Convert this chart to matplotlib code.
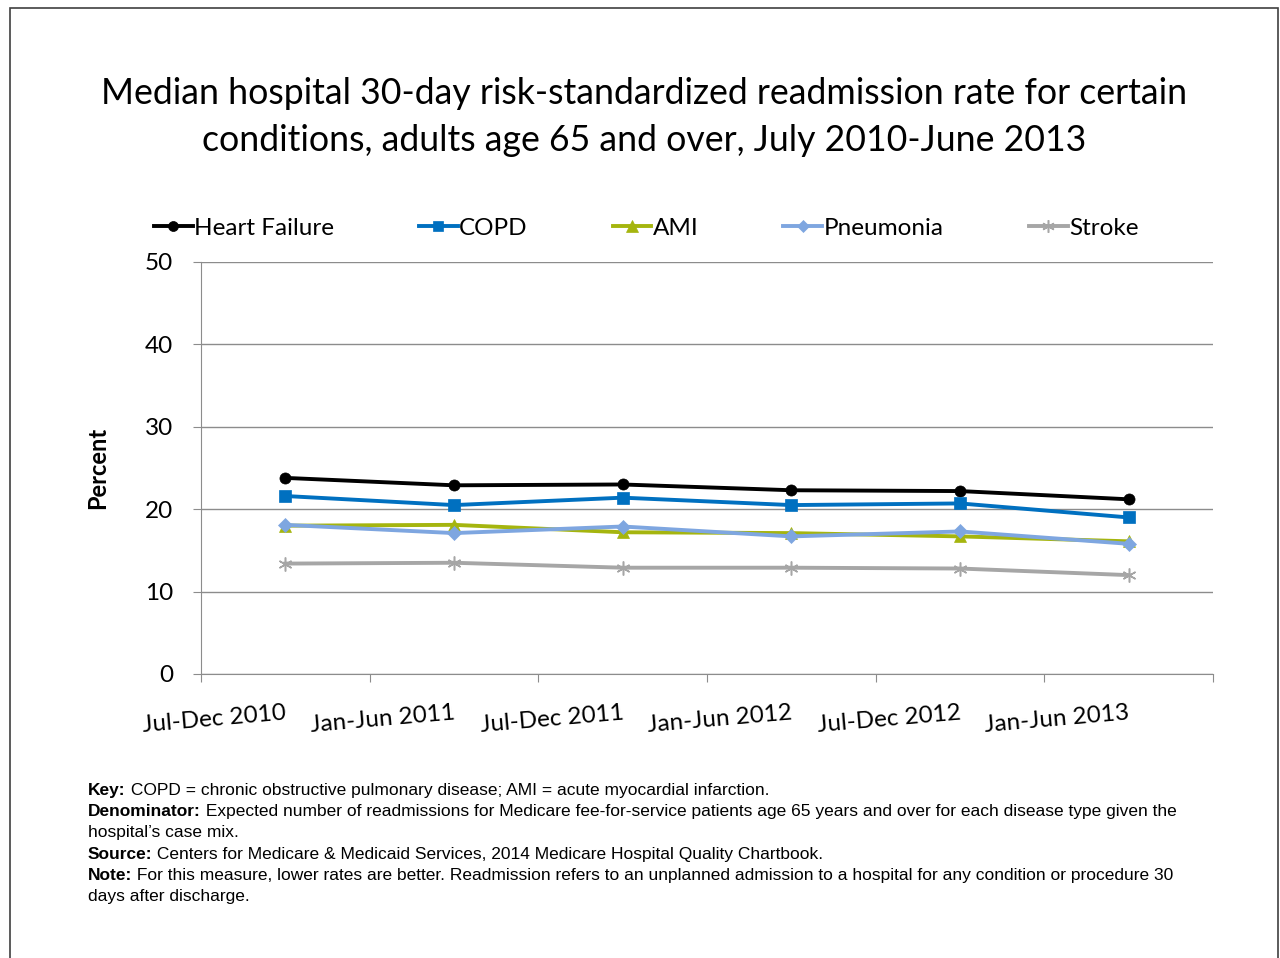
import matplotlib
matplotlib.use("Agg")
import matplotlib.pyplot as plt
from matplotlib.patches import Rectangle

periods = ["Jul-Dec 2010", "Jan-Jun 2011", "Jul-Dec 2011",
           "Jan-Jun 2012", "Jul-Dec 2012", "Jan-Jun 2013"]
heart_failure = [23.8, 22.9, 23.0, 22.3, 22.2, 21.2]
copd = [21.6, 20.5, 21.4, 20.5, 20.7, 19.0]
ami = [18.0, 18.1, 17.2, 17.1, 16.7, 16.1]
pneumonia = [18.1, 17.1, 17.9, 16.7, 17.3, 15.8]
stroke = [13.4, 13.5, 12.9, 12.9, 12.8, 12.0]
y_ticks = [0, 10, 20, 30, 40, 50]

series = [
    ("Heart Failure", heart_failure, "#000000", "o", 8),
    ("COPD", copd, "#0070C0", "s", 8),
    ("AMI", ami, "#A5B50E", "^", 9),
    ("Pneumonia", pneumonia, "#7EA6E0", "D", 7),
    ("Stroke", stroke, "#A6A6A6", (6, 2, 0), 10),
]

main_font = ["Lato", "DejaVu Sans"]
note_font = ["Liberation Sans", "DejaVu Sans"]

fig = plt.figure(figsize=(12.8, 9.58), dpi=100)
fig.patches.append(Rectangle((10 / 1280, -0.1), 1268 / 1280, 1.1 - 8 / 958,
                             transform=fig.transFigure, fill=False,
                             edgecolor="#404040", linewidth=1.2))

ax = fig.add_axes([201 / 1280, 1 - 674 / 958, 1012 / 1280, 412 / 958])
x = list(range(len(periods)))
for name, vals, color, marker, ms in series:
    star = isinstance(marker, tuple)
    ax.plot(x, vals, color=color, marker=marker, markersize=ms, linewidth=2.8,
            label=name, markeredgewidth=1.1 if star else 0.5,
            markeredgecolor=color, zorder=3)

ax.set_xlim(-0.5, len(periods) - 0.5)
ax.set_ylim(0, 50)
ax.set_yticks(y_ticks)
ax.set_yticklabels([str(v) for v in y_ticks], fontsize=17.5, family=main_font)
ax.yaxis.grid(True, color="#8C8C8C", linewidth=1)
ax.set_axisbelow(True)
ax.tick_params(axis="y", length=6, color="#8C8C8C", pad=14)

ax.set_xticks([i - 0.5 for i in range(len(periods) + 1)])
ax.set_xticklabels([])
ax.tick_params(axis="x", length=6, color="#8C8C8C")
for i, lab in enumerate(periods):
    ax.text(i, -3.4, lab, rotation=5, ha="right", va="top",
            rotation_mode="anchor", fontsize=17.5, family=main_font)

for s in ["top", "right"]:
    ax.spines[s].set_visible(False)
for s in ["left", "bottom"]:
    ax.spines[s].set_color("#8C8C8C")

ax.set_ylabel("Percent", fontsize=17, fontweight="bold", family=main_font, labelpad=26)

fig.legend(loc="center", bbox_to_anchor=(646 / 1280, 1 - 228 / 958), ncol=5,
           frameon=False, prop={"family": main_font, "size": 17.5},
           handlelength=1.6, handletextpad=0.05, markerscale=0.9, columnspacing=3.5)

fig.text(644 / 1280, 1 - 117 / 958,
         "Median hospital 30-day risk-standardized readmission rate for certain\n"
         "conditions, adults age 65 and over, July 2010-June 2013",
         ha="center", va="center", fontsize=25.7, family=main_font, linespacing=1.5)

notes = [
    ("Key:", " COPD = chronic obstructive pulmonary disease; AMI = acute myocardial infarction."),
    ("Denominator:", " Expected number of readmissions for Medicare fee-for-service patients age 65 years and over for each disease type given the"),
    ("", "hospital\u2019s case mix."),
    ("Source:", " Centers for Medicare & Medicaid Services, 2014 Medicare Hospital Quality Chartbook."),
    ("Note:", " For this measure, lower rates are better. Readmission refers to an unplanned admission to a hospital for any condition or procedure 30"),
    ("", "days after discharge."),
]
renderer = fig.canvas.get_renderer()
for k, (head, body) in enumerate(notes):
    y = 1 - (790 + k * 21.4) / 958
    x0 = 88 / 1280
    if head:
        t = fig.text(x0, y, head, fontsize=12.5, fontweight="bold", family=note_font, va="center")
        bb = t.get_window_extent(renderer)
        x0 = bb.x1 / 1280
    fig.text(x0, y, body, fontsize=12.5, family=note_font, va="center")

fig.savefig("out.png", dpi=100)
